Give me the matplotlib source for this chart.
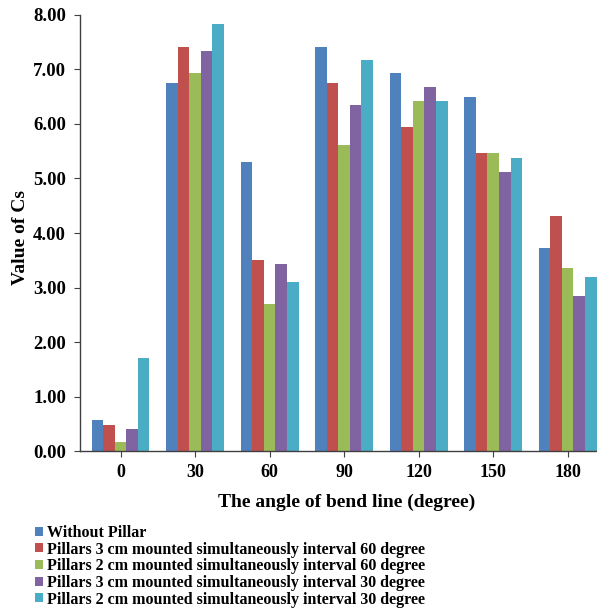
import matplotlib.pyplot as plt
import numpy as np

angles = ['0', '30', '60', '90', '120', '150', '180']
series_names = [
    'Without Pillar',
    'Pillars 3 cm mounted simultaneously interval 60 degree',
    'Pillars 2 cm mounted simultaneously interval 60 degree',
    'Pillars 3 cm mounted simultaneously interval 30 degree',
    'Pillars 2 cm mounted simultaneously interval 30 degree',
]
without_pillar = [0.57, 6.75, 5.30, 7.42, 6.93, 6.50, 3.73]
p3_int60 = [0.48, 7.42, 3.50, 6.75, 5.95, 5.46, 4.31]
p2_int60 = [0.16, 6.93, 2.69, 5.61, 6.43, 5.46, 3.35]
p3_int30 = [0.40, 7.34, 3.43, 6.34, 6.67, 5.12, 2.85]
p2_int30 = [1.70, 7.83, 3.10, 7.17, 6.43, 5.37, 3.19]
colors = ['#4F81BD', '#C0504D', '#9BBB59', '#8064A2', '#4BACC6']

plt.rcParams['font.family'] = 'Liberation Serif'
plt.rcParams['font.weight'] = 'bold'

fig = plt.figure(figsize=(5.97, 6.09), dpi=100)
ax = fig.add_axes([0.134, 0.2594, 0.866, 0.716])

x = np.arange(len(angles))
width = 0.155
data = [without_pillar, p3_int60, p2_int60, p3_int30, p2_int30]
handles = []
for i, vals in enumerate(data):
    b = ax.bar(x + (i - 2) * width, vals, width, color=colors[i], label=series_names[i])
    handles.append(b)

ax.set_xlim(-0.545, 6.393)
ax.set_ylim(0, 8)
ax.set_yticks(np.arange(0, 8.01, 1))
ax.set_yticklabels(['%.2f' % v for v in np.arange(0, 8.01, 1)])
ax.set_xticks(x)
ax.set_xticklabels(angles)

for s in ['top', 'right']:
    ax.spines[s].set_visible(False)
for s in ['left', 'bottom']:
    ax.spines[s].set_color('#404040')
    ax.spines[s].set_linewidth(1.0)
ax.tick_params(axis='both', length=4, color='#404040', labelsize=13)
ax.tick_params(axis='y', labelsize=13.5, pad=6)
ax.tick_params(axis='x', pad=5)

ax.set_ylabel('Value of Cs', fontsize=14, fontweight='bold')
ax.yaxis.set_label_coords(-0.098, 0.49)
ax.set_xlabel('The angle of bend line (degree)', fontsize=14, fontweight='bold')
ax.xaxis.set_label_coords(0.515, -0.097)

fig.legend(handles=handles, loc='upper left', bbox_to_anchor=(0.058, 0.138),
           frameon=False, fontsize=11.5, handlelength=0.5, handleheight=0.5,
           handletextpad=0.3, labelspacing=0.04, borderaxespad=0, borderpad=0)

fig.savefig('out.png', dpi=100)
